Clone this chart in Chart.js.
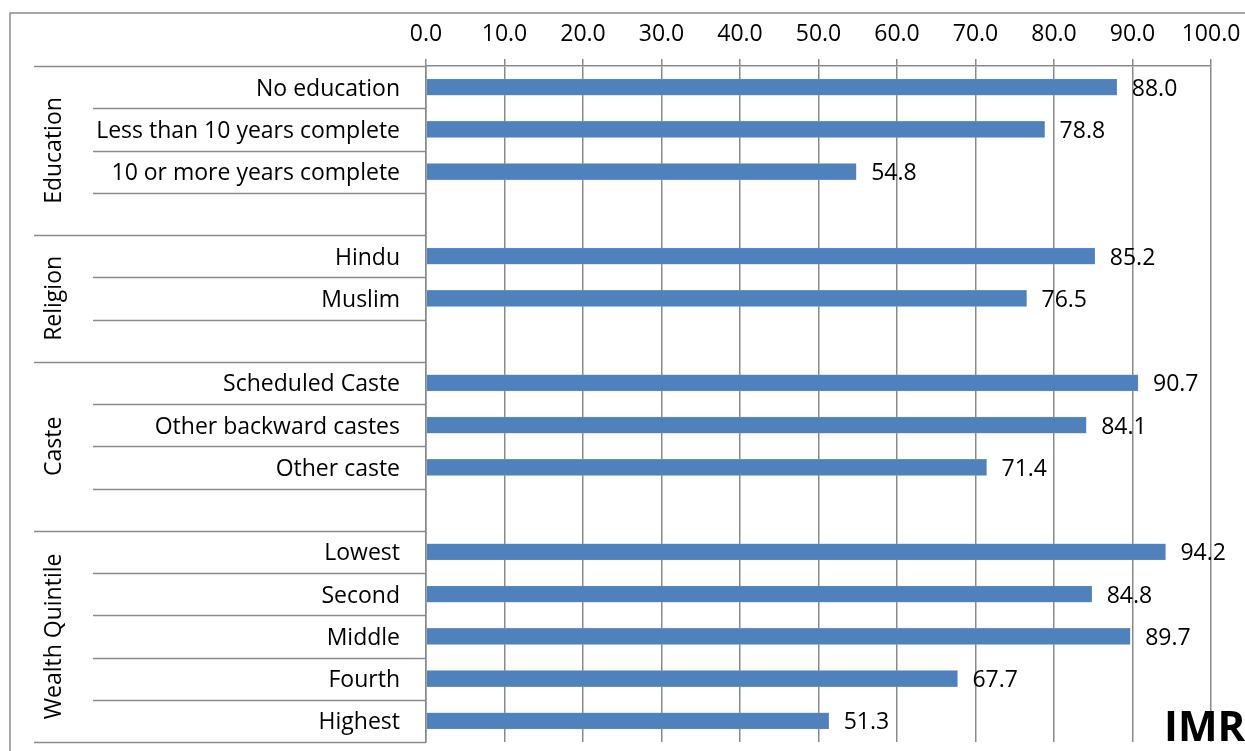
<!DOCTYPE html>
<html>
<head>
<meta charset="utf-8">
<script src="https://cdn.jsdelivr.net/npm/chart.js@4/dist/chart.umd.min.js"></script>
<style>
  html, body { margin: 0; padding: 0; background: #fff; }
  #imrChart { display: block; }
</style>
</head>
<body>
<canvas id="imrChart" width="1245" height="751"></canvas>
<script>
/* ---------- DATA ---------- */
// blank strings are the spacer rows between groups
const categories = [
  "No education", "Less than 10 years complete", "10 or more years complete", "",
  "Hindu", "Muslim", "",
  "Scheduled Caste", "Other backward castes", "Other caste", "",
  "Lowest", "Second", "Middle", "Fourth", "Highest"
];
const imrValues = [
  88.0, 78.8, 54.8, null,
  85.2, 76.5, null,
  90.7, 84.1, 71.4, null,
  94.2, 84.8, 89.7, 67.7, 51.3
];
const groupNames = ["Education", "Religion", "Caste", "Wealth Quintile"];
const groupStarts = [0, 4, 7, 11];   // first row of each group
const xTicks = [0, 10, 20, 30, 40, 50, 60, 70, 80, 90, 100];
const chartTitle = "IMR";

/* ---------- STYLE ---------- */
const FONT = "'Open Sans', 'Noto Sans', sans-serif";
const FONT_SIZE = 23;
const LINE = "#8a8a8a";
const BAR = "#4f81bd";

/* ---------- extra drawing: frame, category separators, group names, value labels ---------- */
const decorations = {
  id: "decorations",
  beforeDraw(chart) {
    const ctx = chart.ctx;
    ctx.save();
    ctx.strokeStyle = LINE;
    ctx.lineWidth = 1.5;
    ctx.beginPath();
    ctx.moveTo(10, chart.height);
    ctx.lineTo(10, 13);
    ctx.lineTo(chart.width, 13);
    ctx.stroke();
    ctx.restore();
  },
  afterDraw(chart) {
    const ctx = chart.ctx;
    const y = chart.scales.y;
    const n = categories.length;
    const rowH = (y.bottom - y.top) / n;
    const axisX = chart.chartArea.left;

    ctx.save();
    ctx.strokeStyle = LINE;
    ctx.lineWidth = 1.5;
    for (let k = 0; k <= n; k++) {
      const py = Math.round(y.top + k * rowH) + 0.5;
      const isGroupEdge = k === n || groupStarts.includes(k);
      ctx.beginPath();
      ctx.moveTo(isGroupEdge ? 34 : 93, py);
      ctx.lineTo(axisX, py);
      ctx.stroke();
    }

    // rotated group names
    ctx.fillStyle = "#000";
    ctx.font = FONT_SIZE + "px " + FONT;
    ctx.textAlign = "center";
    ctx.textBaseline = "middle";
    groupNames.forEach((name, g) => {
      const start = groupStarts[g];
      const end = g + 1 < groupStarts.length ? groupStarts[g + 1] : n;
      const cy = y.top + (start + end) / 2 * rowH;
      ctx.save();
      ctx.translate(54, cy);
      ctx.rotate(-Math.PI / 2);
      ctx.fillText(name, 0, 0);
      ctx.restore();
    });

    // value labels at the end of each bar
    const meta = chart.getDatasetMeta(0);
    ctx.textAlign = "left";
    meta.data.forEach((bar, i) => {
      const v = imrValues[i];
      if (v === null) return;
      ctx.fillText(v.toFixed(1), bar.x + 15, bar.y + 2);
    });

    // chart title, bottom right
    ctx.font = "bold 42px " + FONT;
    ctx.textAlign = "left";
    ctx.textBaseline = "alphabetic";
    ctx.fillText(chartTitle, 1164, 741);
    ctx.restore();
  }
};

new Chart(document.getElementById("imrChart"), {
  type: "bar",
  data: {
    labels: categories,
    datasets: [{
      data: imrValues,
      backgroundColor: BAR,
      borderColor: "#7ea3d1",
      borderWidth: 0.5,
      barThickness: 16
    }]
  },
  options: {
    indexAxis: "y",
    responsive: false,
    animation: false,
    layout: { padding: { top: 0, left: 0, right: 34, bottom: 9 } },
    plugins: { legend: { display: false }, tooltip: { enabled: false } },
    scales: {
      x: {
        position: "top",
        min: 0,
        max: 100,
        afterBuildTicks(scale) { scale.ticks = xTicks.map(v => ({ value: v })); },
        afterFit(scale) {
          scale.height = 66;
          scale.paddingLeft = 0;
          scale.paddingRight = 0;
        },
        ticks: {
          color: "#000",
          font: { family: FONT, size: FONT_SIZE },
          padding: 11,
          callback: v => Number(v).toFixed(1)
        },
        grid: { color: LINE, lineWidth: 1.5, tickLength: 7, tickColor: LINE },
        border: { color: LINE, width: 1.5 }
      },
      y: {
        afterFit(scale) {
          scale.width = 426;
          scale.paddingTop = 0;
          scale.paddingBottom = 0;
        },
        ticks: {
          color: "#000",
          font: { family: FONT, size: FONT_SIZE },
          padding: 26,
          labelOffset: 2,
          autoSkip: false
        },
        grid: { display: false, drawTicks: false },
        border: { color: LINE, width: 1.5 }
      }
    }
  },
  plugins: [decorations]
});
</script>
</body>
</html>
